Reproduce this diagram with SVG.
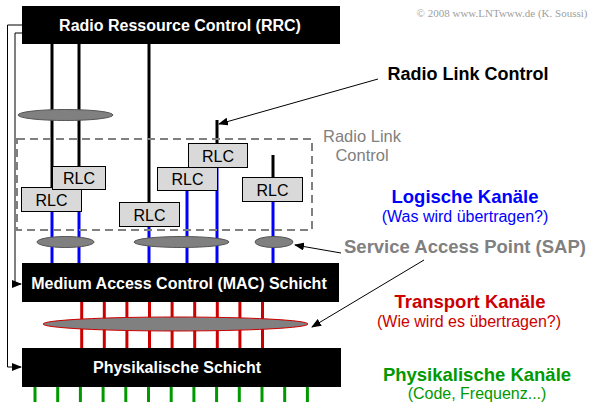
<svg xmlns="http://www.w3.org/2000/svg" width="596" height="413" viewBox="0 0 596 413">
<defs>
<marker id="ah" markerWidth="10" markerHeight="8" refX="9" refY="4" orient="auto" markerUnits="userSpaceOnUse"><path d="M0,0 L10,4 L0,8 z" fill="#000"/></marker>
<style>
.box{fill:#000}
.wt{font-family:"Liberation Sans",Arial,sans-serif;font-weight:bold;font-size:16px;fill:#fff;text-anchor:middle}
.rlc rect{fill:#d9d9d9;stroke:#000;stroke-width:1}
.rlc text{font-family:"Liberation Sans",Arial,sans-serif;font-size:16px;fill:#000;text-anchor:middle}
.bl{stroke:#000;stroke-width:3}
.blu{stroke:#0000ff;stroke-width:3}
.red{stroke:#cc0000;stroke-width:3}
.grn{stroke:#009900;stroke-width:3}
.ell{fill:#808080;stroke:#555;stroke-width:1}
.thin{stroke:#000;stroke-width:1;fill:none}
.lab{font-family:"Liberation Sans",Arial,sans-serif;font-weight:bold;font-size:18.5px;text-anchor:middle}
.sub{font-family:"Liberation Sans",Arial,sans-serif;font-size:16px;text-anchor:middle}
.gl{font-family:"Liberation Sans",Arial,sans-serif;font-size:16.5px;fill:#808080;text-anchor:middle}
</style>
</defs>
<rect width="596" height="413" fill="#fff"/>
<text x="502" y="17" font-family="'Liberation Serif',serif" font-size="11" fill="#a0a0a0" text-anchor="middle">© 2008 www.LNTwww.de (K. Soussi)</text>

<g id="connectors">
<polyline class="thin" points="22,25 7.5,25 7.5,367 21,367" marker-end="url(#ah)"/>
<polyline class="thin" points="22,33 15,33 15,284 21,284" marker-end="url(#ah)"/>
<line class="bl" x1="52" y1="44" x2="52" y2="187"/>
<line class="bl" x1="79" y1="44" x2="79" y2="166"/>
<line class="bl" x1="149" y1="44" x2="149" y2="202"/>
<line class="bl" x1="217" y1="120" x2="217" y2="143"/>
<line class="bl" x1="273" y1="155" x2="273" y2="178"/>
<line class="blu" x1="52" y1="211" x2="52" y2="263"/>
<line class="blu" x1="79" y1="211" x2="79" y2="263"/>
<line class="blu" x1="149" y1="226" x2="149" y2="263"/>
<line class="blu" x1="187" y1="190" x2="187" y2="263"/>
<line class="blu" x1="217" y1="167" x2="217" y2="263"/>
<line class="blu" x1="273" y1="201" x2="273" y2="263"/>
<g class="red">
<line x1="81.7" y1="302" x2="81.7" y2="348"/>
<line x1="104.3" y1="302" x2="104.3" y2="348"/>
<line x1="126.9" y1="302" x2="126.9" y2="348"/>
<line x1="149.5" y1="302" x2="149.5" y2="348"/>
<line x1="172.1" y1="302" x2="172.1" y2="348"/>
<line x1="194.7" y1="302" x2="194.7" y2="348"/>
<line x1="217.3" y1="302" x2="217.3" y2="348"/>
<line x1="239.9" y1="302" x2="239.9" y2="348"/>
<line x1="262.5" y1="302" x2="262.5" y2="348"/>
</g>
<g class="grn">
<line x1="35" y1="387" x2="35" y2="402"/>
<line x1="57.7" y1="387" x2="57.7" y2="402"/>
<line x1="80.4" y1="387" x2="80.4" y2="402"/>
<line x1="103.1" y1="387" x2="103.1" y2="402"/>
<line x1="125.8" y1="387" x2="125.8" y2="402"/>
<line x1="148.5" y1="387" x2="148.5" y2="402"/>
<line x1="171.2" y1="387" x2="171.2" y2="402"/>
<line x1="193.9" y1="387" x2="193.9" y2="402"/>
<line x1="216.6" y1="387" x2="216.6" y2="402"/>
<line x1="239.3" y1="387" x2="239.3" y2="402"/>
<line x1="262" y1="387" x2="262" y2="402"/>
<line x1="284.7" y1="387" x2="284.7" y2="402"/>
<line x1="307.4" y1="387" x2="307.4" y2="402"/>
</g>
<line class="thin" x1="378" y1="79" x2="219" y2="124" marker-end="url(#ah)"/>
<line class="thin" x1="341" y1="253" x2="295" y2="245" marker-end="url(#ah)"/>
<line class="thin" x1="424" y1="260" x2="312" y2="327" marker-end="url(#ah)"/>
</g>

<g id="sap-ellipses">
<ellipse class="ell" cx="65.5" cy="115" rx="47.5" ry="5.5"/>
<ellipse class="ell" cx="65.5" cy="242" rx="28.5" ry="5.5"/>
<ellipse class="ell" cx="181.5" cy="242" rx="47.5" ry="5.5"/>
<ellipse class="ell" cx="274" cy="242" rx="19" ry="5.5"/>
<ellipse cx="175.5" cy="324" rx="132.5" ry="7" fill="#808080" stroke="#cc0000" stroke-width="1"/>
</g>

<g id="rlc-frame">
<rect x="17" y="139" width="295" height="91" fill="none" stroke="#808080" stroke-width="2" stroke-dasharray="8,5"/>
<text class="gl" x="362" y="142">Radio Link</text>
<text class="gl" x="362" y="161">Control</text>
</g>

<g id="rlc1" class="rlc"><rect x="21.5" y="187.5" width="60" height="24"/><text x="51.5" y="205.5">RLC</text></g>
<g id="rlc2" class="rlc"><rect x="52.5" y="166.5" width="53" height="23"/><text x="79" y="184">RLC</text></g>
<g id="rlc3" class="rlc"><rect x="119.5" y="202.5" width="60" height="24"/><text x="149.5" y="220.5">RLC</text></g>
<g id="rlc4" class="rlc"><rect x="157.5" y="167.5" width="60" height="23"/><text x="187.5" y="185">RLC</text></g>
<g id="rlc5" class="rlc"><rect x="188.5" y="143.5" width="59" height="24"/><text x="218" y="161.5">RLC</text></g>
<g id="rlc6" class="rlc"><rect x="242.5" y="177.5" width="60" height="24"/><text x="272.5" y="195.5">RLC</text></g>

<g id="rrc"><rect class="box" x="22" y="6" width="318" height="38"/><text class="wt" x="180" y="31">Radio Ressource Control (RRC)</text></g>
<g id="mac"><rect class="box" x="22" y="263" width="317" height="39"/><text class="wt" x="179" y="289">Medium Access Control (MAC) Schicht</text></g>
<g id="phy"><rect class="box" x="22" y="348" width="319" height="39"/><text class="wt" x="177" y="373">Physikalische Schicht</text></g>

<g id="labels">
<text class="lab" x="468" y="80" fill="#000" style="font-size:18px">Radio Link Control</text>
<text class="lab" x="465" y="203" fill="#0000ff">Logische Kanäle</text>
<text class="sub" x="465" y="222" fill="#0000ff">(Was wird übertragen?)</text>
<text class="lab" x="465" y="253" fill="#808080">Service Access Point (SAP)</text>
<text class="lab" x="470" y="308" fill="#cc0000">Transport Kanäle</text>
<text class="sub" x="469" y="327" fill="#cc0000">(Wie wird es übertragen?)</text>
<text class="lab" x="477" y="381" fill="#009900">Physikalische Kanäle</text>
<text class="sub" x="477" y="399" fill="#009900">(Code, Frequenz...)</text>
</g>
</svg>
